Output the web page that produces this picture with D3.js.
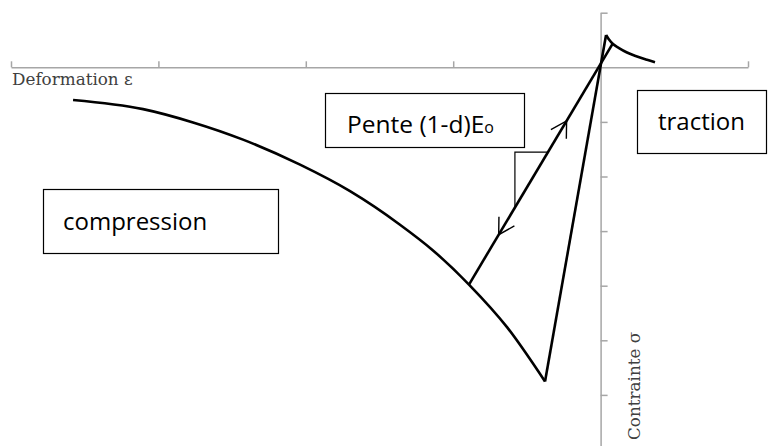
<!DOCTYPE html>
<html>
<head>
<meta charset="utf-8">
<script src="https://cdn.jsdelivr.net/npm/d3@7"></script>
<style>
	body { margin: 0; background: #fff; }
	svg { display: block; }
</style>
</head>
<body>
<svg id="chart" width="769" height="446"></svg>
<script>
// axis ticks (strain, stress units)
var x_ticks = [-4, -3, -2, -1, 0, 1];
var y_ticks = [1, -1, -2, -3, -4, -5, -6];

// compression envelope
var comp_x = [-3.579, -3.104, -2.765, -2.426, -2.039, -1.700, -1.361, -1.137, -0.893, -0.635, -0.377];
var comp_y = [-0.599, -0.766, -1.010, -1.325, -1.784, -2.269, -2.883, -3.354, -3.979, -4.759, -5.754];

// tension: peak then softening branch
var soft_x = [0.037, 0.057, 0.084, 0.125, 0.179, 0.247, 0.315, 0.369];
var soft_y = [0.592, 0.509, 0.426, 0.353, 0.271, 0.198, 0.137, 0.092];

// damaged unloading line: from point on envelope up to the softening branch
var unload_x = [-0.893, 0.081];
var unload_y = [-3.979, 0.43];

// arrows along the unloading line (fraction along it, direction)
var arrow_t = [0.68, 0.207];
var arrow_dir = [1, -1];
// slope triangle legs (fractions along the unloading line)
var tri_t = [0.32, 0.55];

var labels = ['Deformation \u03b5', 'Contrainte \u03c3'];
var boxes = ['compression', 'traction'];

var svg = d3.select('#chart');
var width = +svg.attr('width'), height = +svg.attr('height');

var x = d3.scaleLinear().domain([-4, 1]).range([11, 748]);
var y = d3.scaleLinear().domain([1, -6]).range([12.7, 394.9]);
var y_full = y.copy().domain([1, y.invert(height)]).range([y(1), height]);

var axis_col = '#a6a6a6';

// horizontal axis
svg.append('g').attr('transform', 'translate(0,' + y(0) + ')')
	.call(d3.axisTop(x).tickValues(x_ticks).tickSizeInner(6).tickSizeOuter(0).tickFormat(''));
// vertical axis
svg.append('g').attr('transform', 'translate(' + x(0) + ',0)')
	.call(d3.axisRight(y_full).tickValues(y_ticks).tickSizeInner(7).tickSizeOuter(0).tickFormat(''));
svg.selectAll('.domain, .tick line').attr('stroke', axis_col).attr('stroke-width', 1.5);

svg.append('text').attr('x', 12).attr('y', 85)
	.attr('font-family', 'DejaVu Serif').attr('font-size', 16.8).attr('fill', '#404040')
	.text(labels[0]);
svg.append('text').attr('transform', 'translate(640,440) rotate(-90)')
	.attr('font-family', 'DejaVu Serif').attr('font-size', 16.8).attr('fill', '#404040')
	.text(labels[1]);

var line = d3.line().x(d => x(d[0])).y(d => y(d[1]));
var curve = d3.line().x(d => x(d[0])).y(d => y(d[1])).curve(d3.curveMonotoneX);

var stroke = { fill: 'none', stroke: '#000', 'stroke-width': 2.6, 'stroke-linejoin': 'round' };
function style(sel, s) { for (var k in s) sel.attr(k, s[k]); return sel; }

var comp = d3.zip(comp_x, comp_y);
var peak = [soft_x[0], soft_y[0]];
style(svg.append('path').attr('d', curve(comp)), stroke);
style(svg.append('path').attr('d', line([comp[comp.length - 1], peak])), stroke);
style(svg.append('path').attr('d', curve(d3.zip(soft_x, soft_y))), stroke);
style(svg.append('path').attr('d', line(d3.zip(unload_x, unload_y))), stroke);

// points along unloading line in pixels
var p0 = [x(unload_x[0]), y(unload_y[0])], p1 = [x(unload_x[1]), y(unload_y[1])];
function along(t) { return [p0[0] + t * (p1[0] - p0[0]), p0[1] + t * (p1[1] - p0[1])]; }
var len = Math.hypot(p1[0] - p0[0], p1[1] - p0[1]);
var ux = (p1[0] - p0[0]) / len, uy = (p1[1] - p0[1]) / len;

arrow_t.forEach(function(t, i) {
	var tip = along(t), d = arrow_dir[i];
	var bx = -ux * d, by = -uy * d, a = Math.PI / 6, L = 18;
	var w1 = [tip[0] + L * (bx * Math.cos(a) - by * Math.sin(a)), tip[1] + L * (bx * Math.sin(a) + by * Math.cos(a))];
	var w2 = [tip[0] + L * (bx * Math.cos(-a) - by * Math.sin(-a)), tip[1] + L * (bx * Math.sin(-a) + by * Math.cos(-a))];
	svg.append('path').attr('d', 'M' + w1 + 'L' + tip + 'L' + w2)
		.attr('fill', 'none').attr('stroke', '#000').attr('stroke-width', 1.4);
});

// slope triangle
var ta = along(tri_t[0]), tb = along(tri_t[1]);
svg.append('path').attr('d', 'M' + ta + 'L' + [ta[0], tb[1]] + 'L' + tb)
	.attr('fill', 'none').attr('stroke', '#000').attr('stroke-width', 1.2);

// label boxes
function box(x0, y0, x1, y1) {
	svg.append('rect').attr('x', x0).attr('y', y0).attr('width', x1 - x0).attr('height', y1 - y0)
		.attr('fill', '#fff').attr('stroke', '#000').attr('stroke-width', 1.2);
}
var box_font = 'Open Sans';
box(325.5, 93.5, 524.5, 147.5);
var pt = svg.append('text').attr('x', 347).attr('y', 133)
	.attr('font-family', box_font).attr('font-size', 24.5).attr('fill', '#000');
pt.append('tspan').text('Pente (1-d)E');
pt.append('tspan').attr('font-size', 16).text('o');

box(43.5, 189.5, 278.5, 253.5);
svg.append('text').attr('x', 63).attr('y', 230)
	.attr('font-family', box_font).attr('font-size', 24).attr('fill', '#000').text(boxes[0]);

box(637.5, 90.5, 766.5, 153.5);
svg.append('text').attr('x', 658).attr('y', 130)
	.attr('font-family', box_font).attr('font-size', 24).attr('fill', '#000').text(boxes[1]);
</script>
</body>
</html>
